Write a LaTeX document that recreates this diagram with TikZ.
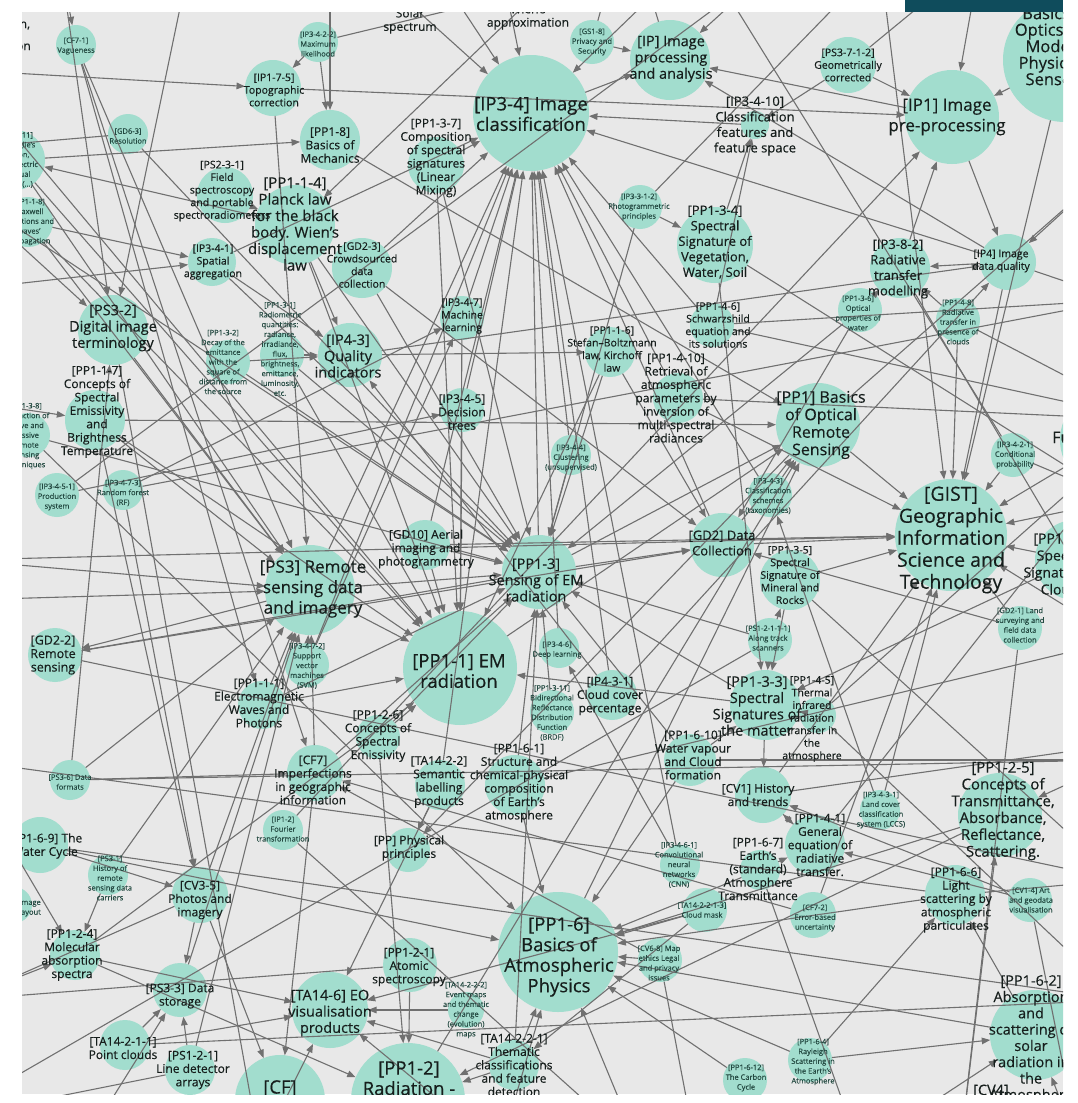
\documentclass[tikz,border=0pt]{standalone}
\usepackage{fontspec}
\setmainfont{Open Sans}[FakeBold=0.35]
\usetikzlibrary{arrows.meta}
\definecolor{canvas}{HTML}{E8E8E8}
\definecolor{mint}{HTML}{A2DDCE}
\definecolor{wire}{HTML}{707070}
\definecolor{ink}{HTML}{161E1C}
\definecolor{inksm}{HTML}{244A42}
\definecolor{band}{HTML}{0F4C5C}
\begin{document}
\begin{tikzpicture}[x=1pt,y=-1pt,
  gnode/.style={circle,fill=mint,draw=none,inner sep=0pt,outer sep=0pt},
  lab/.style={align=center,text=ink,inner sep=0pt},
  fxl/.style={font=\fontsize{18.5}{20.5}\selectfont},
  fl/.style={font=\fontsize{17}{20.5}\selectfont},
  flm/.style={font=\fontsize{16}{17.5}\selectfont},
  fm/.style={font=\fontsize{14.5}{16.3}\selectfont},
  fn/.style={font=\fontsize{13}{15.5}\selectfont},
  fs/.style={font=\fontsize{12}{13.4}\selectfont},
  fsm/.style={font=\fontsize{10.5}{12.6}\selectfont},
  ft/.style={font=\fontsize{7.5}{9.8}\selectfont,text=inksm},
  link/.style={draw=wire,line width=1.1pt,-{Triangle[length=8.5pt,width=6.5pt]}},
]
\useasboundingbox (0,0) rectangle (1077,1103);
\fill[white] (0,0) rectangle (1077,1103);
\fill[band] (905,0) rectangle (1063,12);

\begin{scope}
\clip (22,12) rectangle (1063,1094);
\fill[canvas] (22,12) rectangle (1063,1094);

% ---------- concept circles ----------
\node[gnode,minimum size=60pt]  (tl)     at (0,-8) {};
\node[gnode,minimum size=40pt]  (cf71)   at (76,45) {};
\node[gnode,minimum size=40pt]  (ip3422) at (318,42) {};
\node[gnode,minimum size=44pt]  (gs18)   at (592,42) {};
\node[gnode,minimum size=80pt]  (ip)     at (670,60) {};
\node[gnode,minimum size=116pt] (ip34)   at (531,113) {};
\node[gnode,minimum size=56pt]  (pp137)  at (436,165) {};
\node[gnode,minimum size=28pt]  (ip3410) at (755,125) {};
\node[gnode,minimum size=56pt]  (ps3712) at (848,65) {};
\node[gnode,minimum size=94pt]  (ip1)    at (952,117) {};
\node[gnode,minimum size=124pt] (bo)     at (1065,60) {};
\node[gnode,minimum size=56pt]  (ip175)  at (273,88) {};
\node[gnode,minimum size=60pt]  (pp18)   at (330,140) {};
\node[gnode,minimum size=40pt]  (gd63)   at (128,134) {};
\node[gnode,minimum size=60pt]  (l111)   at (15,160) {};
\node[gnode,minimum size=50pt]  (l118)   at (28,222) {};
\node[gnode,minimum size=56pt]  (ps231)  at (225,195) {};
\node[gnode,minimum size=80pt]  (pp114)  at (295,225) {};
\node[gnode,minimum size=48pt]  (ip341)  at (212,262) {};
\node[gnode,minimum size=60pt]  (gd23)   at (362,268) {};
\node[gnode,minimum size=70pt]  (ps32)   at (113,330) {};
\node[gnode,minimum size=44pt]  (pp132)  at (228,362) {};
\node[gnode,minimum size=44pt]  (pp131)  at (282,355) {};
\node[gnode,minimum size=64pt]  (ip43)   at (350,355) {};
\node[gnode,minimum size=60pt]  (pp117)  at (95,420) {};
\node[gnode,minimum size=44pt]  (pp138)  at (28,435) {};
\node[gnode,minimum size=44pt]  (ip3451) at (57,495) {};
\node[gnode,minimum size=40pt]  (ip3473) at (123,490) {};
\node[gnode,minimum size=44pt]  (ip347)  at (462,318) {};
\node[gnode,minimum size=44pt]  (ip345)  at (462,410) {};
\node[gnode,minimum size=44pt]  (ip3312) at (640,207) {};
\node[gnode,minimum size=76pt]  (pp134)  at (715,245) {};
\node[gnode,minimum size=60pt]  (ip382)  at (900,268) {};
\node[gnode,minimum size=56pt]  (ip4)    at (1008,262) {};
\node[gnode,minimum size=44pt]  (pp136)  at (860,310) {};
\node[gnode,minimum size=44pt]  (pp148)  at (958,320) {};
\node[gnode,minimum size=44pt]  (pp146)  at (712,325) {};
\node[gnode,minimum size=50pt]  (pp116)  at (610,352) {};
\node[gnode,minimum size=50pt]  (pp1410) at (678,398) {};
\node[gnode,minimum size=84pt]  (pp1)    at (818,425) {};
\node[gnode,minimum size=40pt]  (ip344)  at (571,455) {};
\node[gnode,minimum size=44pt]  (ip343)  at (770,495) {};
\node[gnode,minimum size=44pt]  (ip3421) at (1013,455) {};
\node[gnode,minimum size=100pt] (fnd)    at (1110,440) {};
\node[gnode,minimum size=112pt] (gist)   at (951,535) {};
\node[gnode,minimum size=80pt]  (pp139)  at (1075,560) {};
\node[gnode,minimum size=64pt]  (gd2)    at (722,545) {};
\node[gnode,minimum size=60pt]  (pp135)  at (790,580) {};
\node[gnode,minimum size=44pt]  (gd21)   at (1020,628) {};
\node[gnode,minimum size=44pt]  (ps1211) at (770,640) {};
\node[gnode,minimum size=70pt]  (pp133)  at (765,705) {};
\node[gnode,minimum size=36pt]  (pp145)  at (818,715) {};
\node[gnode,minimum size=40pt]  (ip346)  at (559,648) {};
\node[gnode,minimum size=50pt]  (ip431)  at (612,695) {};
\node[gnode,minimum size=44pt]  (pp1311) at (552,712) {};
\node[gnode,minimum size=52pt]  (pp1610) at (690,760) {};
\node[gnode,minimum size=56pt]  (cv1)    at (763,795) {};
\node[gnode,minimum size=60pt]  (pp141)  at (815,845) {};
\node[gnode,minimum size=40pt]  (lccs)   at (880,810) {};
\node[gnode,minimum size=84pt]  (pp125)  at (1000,815) {};
\node[gnode,minimum size=40pt]  (pp167)  at (760,870) {};
\node[gnode,minimum size=46pt]  (cf72)   at (813,915) {};
\node[gnode,minimum size=60pt]  (pp166)  at (955,895) {};
\node[gnode,minimum size=44pt]  (cv14)   at (1030,900) {};
\node[gnode,minimum size=44pt]  (tamask) at (705,910) {};
\node[gnode,minimum size=40pt]  (cnn)    at (680,865) {};
\node[gnode,minimum size=44pt]  (cv68)   at (660,960) {};
\node[gnode,minimum size=120pt] (pp16)   at (558,952) {};
\node[gnode,minimum size=54pt]  (pp121)  at (410,965) {};
\node[gnode,minimum size=36pt]  (ta222)  at (466,1010) {};
\node[gnode,minimum size=50pt]  (ta221)  at (514,1065) {};
\node[gnode,minimum size=114pt] (pp12)   at (408,1100) {};
\node[gnode,minimum size=76pt]  (ta146)  at (330,1010) {};
\node[gnode,minimum size=90pt]  (cf)     at (280,1100) {};
\node[gnode,minimum size=50pt]  (ps121)  at (190,1070) {};
\node[gnode,minimum size=50pt]  (ta211)  at (125,1045) {};
\node[gnode,minimum size=54pt]  (ps33)   at (180,990) {};
\node[gnode,minimum size=50pt]  (pp124)  at (75,955) {};
\node[gnode,minimum size=56pt]  (cv35)   at (200,895) {};
\node[gnode,minimum size=40pt]  (ps31)   at (108,875) {};
\node[gnode,minimum size=56pt]  (pp169)  at (40,845) {};
\node[gnode,minimum size=36pt]  (imgl)   at (14,905) {};
\node[gnode,minimum size=40pt]  (ps36)   at (70,780) {};
\node[gnode,minimum size=40pt]  (ip12)   at (283,830) {};
\node[gnode,minimum size=56pt]  (cf7)    at (315,773) {};
\node[gnode,minimum size=44pt]  (pp126)  at (378,737) {};
\node[gnode,minimum size=50pt]  (ta1422) at (440,785) {};
\node[gnode,minimum size=60pt]  (pp161)  at (515,785) {};
\node[gnode,minimum size=44pt]  (pp)     at (408,850) {};
\node[gnode,minimum size=48pt]  (pp111)  at (262,705) {};
\node[gnode,minimum size=44pt]  (ip3472) at (307,665) {};
\node[gnode,minimum size=90pt]  (ps3)    at (310,590) {};
\node[gnode,minimum size=54pt]  (gd22)   at (55,655) {};
\node[gnode,minimum size=50pt]  (gd10)   at (425,545) {};
\node[gnode,minimum size=74pt]  (pp13)   at (539,572) {};
\node[gnode,minimum size=114pt] (pp11)   at (460,668) {};
\node[gnode,minimum size=44pt]  (pp164)  at (810,1060) {};
\node[gnode,minimum size=44pt]  (pp1612) at (745,1080) {};
\node[gnode,minimum size=90pt]  (pp162)  at (1035,1035) {};
\coordinate (solar) at (410,4);
\coordinate (wien)  at (528,2);

% ---------- concepts lying beyond the visible frame ----------
\coordinate (xL1) at (-40,70);   \coordinate (xL2) at (-40,190);
\coordinate (xL3) at (-40,290);  \coordinate (xL4) at (-40,560);
\coordinate (xL5) at (-40,600);  \coordinate (xL6) at (-40,760);
\coordinate (xL7) at (-40,1000); \coordinate (xL8) at (-40,400);
\coordinate (xL9) at (-40,880);
\coordinate (xT1) at (190,-40);  \coordinate (xT2) at (330,-40);
\coordinate (xT3) at (430,-40);  \coordinate (xT4) at (500,-40);
\coordinate (xT5) at (640,-40);  \coordinate (xT6) at (780,-40);
\coordinate (xT7) at (880,-40);  \coordinate (xT8) at (60,-40);
\coordinate (xT9) at (980,-40);
\coordinate (xR1) at (1120,160); \coordinate (xR2) at (1120,300);
\coordinate (xR3) at (1120,500); \coordinate (xR4) at (1120,640);
\coordinate (xR5) at (1120,880); \coordinate (xR6) at (1120,1000);
\coordinate (xR7) at (1120,760); \coordinate (xR8) at (1120,60);
\coordinate (xB1) at (80,1150);  \coordinate (xB2) at (260,1150);
\coordinate (xB3) at (500,1150); \coordinate (xB4) at (640,1150);
\coordinate (xB5) at (860,1150); \coordinate (xB6) at (960,1150);
\coordinate (xB7) at (1080,1150);
\coordinate (pp14o) at (1150,420); \coordinate (cv1o) at (1150,740);
\coordinate (cv3o) at (-60,1010);  \coordinate (cv6o) at (700,1170);
\coordinate (ps12o) at (-60,1120); \coordinate (gso) at (620,-60);
\coordinate (gd6o) at (-60,150);   \coordinate (ip33o) at (900,-60);
\coordinate (ps37o) at (1000,-60); \coordinate (ip342o) at (700,-50);

% ---------- parent links ----------
\foreach \a/\b in {pp111/pp11,pp114/pp11,pp116/pp11,pp117/pp11,l111/pp11,l118/pp11,pp11/pp1,
  pp131/pp13,pp132/pp13,pp133/pp13,pp136/pp13,pp137/pp13,pp138/pp13,pp1311/pp13,pp13/pp1,
  pp134/pp133,pp135/pp133,pp139/pp133,
  pp121/pp12,pp124/pp12,pp125/pp12,pp126/pp12,pp12/pp1,
  pp141/pp14o,pp145/pp14o,pp146/pp14o,pp148/pp14o,pp1410/pp14o,
  pp161/pp16,pp162/pp16,pp164/pp16,pp166/pp16,pp167/pp16,pp169/pp16,pp1610/pp16,pp1612/pp16,pp16/pp1,
  pp18/pp1,pp1/pp,
  ip1/ip,ip4/ip,ip34/ip,
  ip175/ip1,ip12/ip1,ps3712/ip1,ip382/ip1,bo/ip1,
  ip341/ip34,ip343/ip34,ip344/ip34,ip345/ip34,ip346/ip34,ip347/ip34,ip3410/ip34,ip342o/ip34,
  ip3421/ip342o,ip3422/ip342o,
  ip3472/ip347,ip3473/ip347,ip3451/ip345,cnn/ip346,lccs/ip343,ip3312/ip33o,
  ip43/ip4,ip431/ip43,
  gd21/gd2,gd22/gd2,gd23/gd2,gd2/gist,gd10/gist,gd63/gd6o,
  ps32/ps3,ps33/ps3,ps36/ps3,ps31/ps3,ps3712/ps37o,
  cv35/cv3o,cv1/cv1o,cv14/cv1,cv68/cv6o,
  cf7/cf,cf71/cf7,cf72/cf7,
  ta211/ta146,ta1422/ta146,ta221/ta146,ta222/ta146,tamask/ta221,
  ps121/ps12o,ps1211/ps12o,gs18/gso}
  \draw[link] (\a) -- (\b);

% ---------- related-concept links ----------
\foreach \a/\b in {xL1/ip175,l111/pp18,pp114/l111,xL3/ip341,l118/ip341,xT1/ps32,xL2/ps32,
  pp114/ip43,ip341/ip43,pp131/ip43,pp132/ip43,xT2/pp18,ps231/pp114,ip3422/pp18,ip3422/ip175,
  xT3/ip34,xT4/ip34,solar/ip34,wien/pp114,gs18/ip,ip/xT5,ps3712/ip3410,ip4/ip34,bo/gist,bo/xR8,
  ip4/xR2,xR1/ip4,pp148/ip382,pp136/ip382,ip4/ip382,ip1/ip4,ip3312/pp134,pp137/ip34,
  pp134/ip3410,pp146/ip3410,gd23/ip34,ip43/pp116,pp1410/ip34,pp146/ip34,pp1/gist,xT7/gist,
  ip3421/gist,pp139/gist,fnd/gist,pp135/gist,ip343/pp1,gd2/pp1,ps1211/pp135,pp13/gd2,
  gd10/pp13,ps3/pp13,ip344/pp13,pp116/pp13,ip345/pp11,ip347/pp11,gd10/pp11,ps3/pp11,
  pp126/pp11,ip3472/ps3,pp111/ps3,pp117/ps3,cf71/ps3,l118/ps3,xL4/ps3,xL5/ps3,ps3/gd22,
  pp13/gd22,pp169/cv35,pp117/cv35,ip3473/cv35,cv35/ps33,ta211/ps33,ps121/ps33,pp124/ta146,
  ps31/pp124,xL6/pp124,xL7/pp124,ps36/cf7,ta1422/pp,ta221/pp12,ta221/pp16,cv68/pp16,
  tamask/pp16,pp162/pp166,pp164/pp166,pp125/pp16,pp141/cv1,cv1/pp141,pp133/cv1,pp145/pp133,
  pp1610/pp133,pp167/pp141,cv14/pp141,pp166/xR5,gd21/gist,xR4/gist,xR3/pp139,cf7/ps3,
  cv35/ps3,ps1211/pp133,xB1/ps33,xB2/ta146,xB3/pp16,xB4/pp16,xB5/pp162,xB3/ta146,xB6/pp125,
  xB7/pp162,xL8/pp117,xL9/pp169,xT8/cf71,xT6/ip,xT9/ip1,xR6/pp162,xR7/pp125,xR3/gist,
  pp1/xR1,pp13/ip34,ps3/ip34,gd10/ip34,pp124/pp11,pp161/pp13,pp1610/pp13,ip431/ip34,pp126/pp13}
  \draw[link] (\a) -- (\b);

% ---------- further cross references ----------
\foreach \a/\b in {xL1/pp11,xL2/pp13,l111/ps3,cf71/pp111,xT8/ps32,ip175/ps3,
  ip341/pp13,pp114/pp13,gd23/pp13,pp137/pp11,pp131/pp11,pp116/gd2,pp1410/gist,
  pp146/xR2,ip3312/pp13,pp134/xR3,ip382/xR4,pp136/gd2,pp148/gist,ip4/gist,ip3421/xR3,
  gd2/ip34,pp135/xR5,gd21/xB6,ps1211/pp13,pp133/pp11,pp145/xR6,ip431/ip4,pp1610/xR7,
  cv1/gist,lccs/gist,pp167/xB5,cf72/gist,pp166/xL6,cv14/xB7,tamask/ta146,cnn/ip34,
  cv68/cf7,pp164/pp162,pp121/xL7,ta221/pp13,ps121/ps3,cv35/cf,ps36/ps32,cf7/pp13,
  ta1422/ip34,pp161/xR4,pp111/pp13,ip3472/ip34,pp117/pp1,xL4/gist,ps32/xB2,gd63/pp13,
  ip3451/xT6,ip3473/xR2,pp138/pp16,gd22/xR5,ps36/xR7,ip12/xB4,pp169/xR6,ta211/xR6}
  \draw[link] (\a) -- (\b);

% ---------- labels ----------
\node[lab,font=\fontsize{12}{11}\selectfont] (tlt) at (-12,36) {Generalisation,\\of\\Representation};
\node[lab,ft] (cf71t)   at (76,46)   {[CF7-1]\\Vagueness};
\node[lab,ft] (ip3422t) at (318,44)  {[IP3-4-2-2]\\Maximum\\likelihood};
\node[lab,ft] (gs18t)   at (592,42)  {[GS1-8]\\Privacy and\\Security};
\node[lab,fm] (ipt)     at (671,59)  {[IP] Image\\processing\\and analysis};
\node[lab,fxl] (ip34t)  at (531,114) {[IP3-4] Image\\classification};
\node[lab,fs] (pp137t)  at (436,158) {[PP1-3-7]\\Composition\\of spectral\\signatures\\(Linear\\Mixing)};
\node[lab,fn] (ip3410t) at (755,126) {[IP3-4-10]\\Classification\\features and\\feature space};
\node[lab,fsm] (ps3712t) at (848,65) {[PS3-7-1-2]\\Geometrically\\corrected};
\node[lab,fl] (ip1t)    at (947,117) {[IP1] Image\\pre-processing};
\node[lab,font=\fontsize{16.5}{16.5}\selectfont] (bot) at (1056,38) {[PP2]\\Basics of\\Optics and\\Modern\\Physics in\\Sensors};
\node[lab,fsm] (ip175t) at (274,90)  {[IP1-7-5]\\Topographic\\correction};
\node[lab,fs] (pp18t)   at (330,145) {[PP1-8]\\Basics of\\Mechanics};
\node[lab,ft] (gd63t)   at (128,136) {[GD6-3]\\Resolution};
\node[lab,ft] (l111t)   at (15,160)  {[PP1-1-11]\\De Broglie's\\relation,\\photoelectric\\and dual\\nature (...)};
\node[lab,ft] (l118t)   at (29,222)  {[PP1-1-8]\\Maxwell\\equations and\\waves'\\propagation};
\node[lab,fsm] (ps231t) at (222,191) {[PS2-3-1]\\Field\\spectroscopy\\and portable\\spectroradiometers};
\node[lab,font=\fontsize{15}{16.5}\selectfont] (pp114t) at (295,224) {[PP1-1-4]\\Planck law\\for the black\\body. Wien's\\displacement\\law};
\node[lab,fsm] (ip341t) at (213,262) {[IP3-4-1]\\Spatial\\aggregation};
\node[lab,fsm] (gd23t)  at (362,265) {[GD2-3]\\Crowdsourced\\data\\collection};
\node[lab,fm] (ps32t)   at (113,328) {[PS3-2]\\Digital image\\terminology};
\node[lab,ft] (pp132t)  at (223,362) {[PP1-3-2]\\Decay of the\\emittance\\with the\\square of\\distance from\\the source};
\node[lab,ft] (pp131t)  at (280,349) {[PP1-3-1]\\Radiometric\\quantities:\\radiance,\\irradiance,\\flux,\\brightness,\\emittance,\\luminosity,\\etc.};
\node[lab,fm] (ip43t)   at (348,356) {[IP4-3]\\Quality\\indicators};
\node[lab,fs] (pp117t)  at (97,412)  {[PP1-1-7]\\Concepts of\\Spectral\\Emissivity\\and\\Brightness\\Temperature};
\node[lab,ft] (pp138t)  at (26,436)  {[PP1-3-8]\\Distinction of\\active and\\passive\\remote\\sensing\\techniques};
\node[lab,ft] (ip3451t) at (57,497)  {[IP3-4-5-1]\\Production\\system};
\node[lab,ft] (ip3473t) at (123,493) {[IP3-4-7-3]\\Random forest\\(RF)};
\node[lab,fsm] (ip347t) at (462,316) {[IP3-4-7]\\Machine\\learning};
\node[lab,fs] (ip345t)  at (462,412) {[IP3-4-5]\\Decision\\trees};
\node[lab,ft] (ip3312t) at (639,207) {[IP3-3-1-2]\\Photogrammetric\\principles};
\node[lab,fn] (pp134t)  at (715,242) {[PP1-3-4]\\Spectral\\Signature of\\Vegetation,\\Water, Soil};
\node[lab,fn] (ip382t)  at (898,269) {[IP3-8-2]\\Radiative\\transfer\\modelling};
\node[lab,fsm] (ip4t)   at (1001,261) {[IP4] Image\\data quality};
\node[lab,ft] (pp136t)  at (858,313) {[PP1-3-6]\\Optical\\properties of\\water};
\node[lab,ft] (pp148t)  at (958,322) {[PP1-4-8]\\Radiative\\transfer in\\presence of\\clouds};
\node[lab,fsm] (pp146t) at (718,325) {[PP1-4-6]\\Schwarzshild\\equation and\\its solutions};
\node[lab,fsm] (pp116t) at (612,349) {[PP1-1-6]\\Stefan–Boltzmann\\law, Kirchoff\\law};
\node[lab,fs] (pp1410t) at (676,398) {[PP1-4-10]\\Retrieval of\\atmospheric\\parameters by\\inversion of\\multi-spectral\\radiances};
\node[lab,flm] (pp1t)   at (821,425) {[PP1] Basics\\of Optical\\Remote\\Sensing};
\node[lab,ft] (ip344t)  at (571,458) {[IP3-4-4]\\Clustering\\(unsupervised)};
\node[lab,ft] (ip343t)  at (768,496) {[IP3-4-3]\\Classification\\schemes\\(taxonomies)};
\node[lab,ft] (ip3421t) at (1015,455) {[IP3-4-2-1]\\Conditional\\probability};
\node[lab,flm,anchor=west] (fndt) at (1052,437) {Fundamentals};
\node[lab,font=\fontsize{19.5}{22}\selectfont] (gistt) at (951,540) {[GIST]\\Geographic\\Information\\Science and\\Technology};
\node[lab,font=\fontsize{14}{17}\selectfont] (pp139t) at (1063,564) {[PP1-3-9]\\Spectral\\Signature of\\Clouds};
\node[lab,fn] (gd2t)    at (722,543) {[GD2] Data\\Collection};
\node[lab,fsm] (pp135t) at (790,575) {[PP1-3-5]\\Spectral\\Signature of\\Mineral and\\Rocks};
\node[lab,ft] (gd21t)   at (1020,625) {[GD2-1] Land\\surveying and\\field data\\collection};
\node[lab,ft] (ps1211t) at (768,638) {[PS1-2-1-1-1]\\Along track\\scanners};
\node[lab,fm] (pp133t)  at (757,706) {[PP1-3-3]\\Spectral\\Signatures of\\the matter};
\node[lab,fsm] (pp145t) at (812,719) {[PP1-4-5]\\Thermal\\infrared\\radiation\\transfer in\\the\\atmosphere};
\node[lab,ft] (ip346t)  at (557,650) {[IP3-4-6]\\Deep learning};
\node[lab,fs] (ip431t)  at (610,696) {[IP4-3-1]\\Cloud cover\\percentage};
\node[lab,ft] (pp1311t) at (552,713) {[PP1-3-11]\\Bidirectional\\Reflectance\\Distribution\\Function\\(BRDF)};
\node[lab,fs] (pp1610t) at (693,755) {[PP1-6-10]\\Water vapour\\and Cloud\\formation};
\node[lab,fs] (cv1t)    at (758,795) {[CV1] History\\and trends};
\node[lab,fs] (pp141t)  at (820,845) {[PP1-4-1]\\General\\equation of\\radiative\\transfer.};
\node[lab,ft] (lccst)   at (881,810) {[IP3-4-3-1]\\Land cover\\classification\\system (LCCS)};
\node[lab,font=\fontsize{15}{16.8}\selectfont] (pp125t) at (1003,811) {[PP1-2-5]\\Concepts of\\Transmittance,\\Absorbance,\\Reflectance,\\Scattering.};
\node[lab,fs] (pp167t)  at (758,869) {[PP1-6-7]\\Earth's\\(standard)\\Atmosphere\\Transmittance};
\node[lab,ft] (cf72t)   at (815,918) {[CF7-2]\\Error-based\\uncertainty};
\node[lab,fs] (pp166t)  at (956,900) {[PP1-6-6]\\Light\\scattering by\\atmospheric\\particulates};
\node[lab,ft] (cv14t)   at (1031,900) {[CV1-4] Art\\and geodata\\visualisation};
\node[lab,ft] (tamaskt) at (702,910) {[TA14-2-2-1-3]\\Cloud mask};
\node[lab,ft] (cnnt)    at (679,865) {[IP3-4-6-1]\\Convolutional\\neural\\networks\\(CNN)};
\node[lab,ft] (cv68t)   at (659,963) {[CV6-8] Map\\ethics Legal\\and privacy\\issues};
\node[lab,fxl] (pp16t)  at (559,957) {[PP1-6]\\Basics of\\Atmospheric\\Physics};
\node[lab,fs] (pp121t)  at (409,967) {[PP1-2-1]\\Atomic\\spectroscopy};
\node[lab,ft] (ta222t)  at (466,1010) {[TA14-2-2-2]\\Event maps\\and thematic\\change\\(evolution)\\maps};
\node[lab,fs] (ta221t)  at (514,1065) {[TA14-2-2-1]\\Thematic\\classifications\\and feature\\detection};
\node[lab,fxl,anchor=north] (pp12t) at (409,1061) {[PP1-2]\\Radiation -\\matter\\interaction};
\node[lab,fm] (ta146t)  at (330,1013) {[TA14-6] EO\\visualisation\\products};
\node[lab,fxl,anchor=north] (cft) at (280,1080) {[CF]\\Conceptual\\Foundations};
\node[lab,fs] (ps121t)  at (193,1070) {[PS1-2-1]\\Line detector\\arrays};
\node[lab,fs] (ta211t)  at (123,1048) {[TA14-2-1-1]\\Point clouds};
\node[lab,fs] (ps33t)   at (180,996) {[PS3-3] Data\\storage};
\node[lab,fs] (pp124t)  at (72,955)  {[PP1-2-4]\\Molecular\\absorption\\spectra};
\node[lab,fs] (cv35t)   at (200,900) {[CV3-5]\\Photos and\\imagery};
\node[lab,ft] (ps31t)   at (110,878) {[PS3-1]\\History of\\remote\\sensing data\\carriers};
\node[lab,fs] (pp169t)  at (45,846)  {[PP1-6-9] The\\Water Cycle};
\node[lab,ft] (imglt)   at (30,908)  {Image\\layout};
\node[lab,ft] (ps36t)   at (70,782)  {[PS3-6] Data\\formats};
\node[lab,ft] (ip12t)   at (283,829) {[IP1-2]\\Fourier\\transformation};
\node[lab,fs] (cf7t)    at (313,780) {[CF7]\\Imperfections\\in geographic\\information};
\node[lab,fs] (pp126t)  at (378,736) {[PP1-2-6]\\Concepts of\\Spectral\\Emissivity};
\node[lab,fs] (ta1422t) at (439,782) {[TA14-2-2]\\Semantic\\labelling\\products};
\node[lab,fs] (pp161t)  at (519,783) {[PP1-6-1]\\Structure and\\chemical-physical\\composition\\of Earth's\\atmosphere};
\node[lab,fs] (ppt)     at (409,848) {[PP] Physical\\principles};
\node[lab,fs] (pp111t)  at (259,703) {[PP1-1-1]\\Electromagnetic\\Waves and\\Photons};
\node[lab,ft] (ip3472t) at (307,666) {[IP3-4-7-2]\\Support\\vector\\machines\\(SVM)};
\node[lab,fl] (ps3t)    at (313,589) {[PS3] Remote\\sensing data\\and imagery};
\node[lab,font=\fontsize{12.5}{13.5}\selectfont] (gd22t) at (53,655) {[GD2-2]\\Remote\\sensing};
\node[lab,fs] (gd10t)   at (426,549) {[GD10] Aerial\\imaging and\\photogrammetry};
\node[lab,fm] (pp13t)   at (536,580) {[PP1-3]\\Sensing of EM\\radiation};
\node[lab,fxl] (pp11t)  at (459,671) {[PP1-1] EM\\radiation};
\node[lab,ft] (pp164t)  at (813,1062) {[PP1-6-4]\\Rayleigh\\Scattering in\\the Earth's\\Atmosphere};
\node[lab,ft] (pp1612t) at (746,1078) {[PP1-6-12]\\The Carbon\\Cycle};
\node[lab,fm,anchor=north] (pp162t) at (1031,975) {[PP1-6-2]\\Absorption\\and\\scattering of\\solar\\radiation in\\the\\Atmosphere};
\node[lab,fm,anchor=west] (cv4t) at (973,1091) {[CV4]};
\node[lab,fs] (solart)  at (410,21)  {Solar\\spectrum};
\node[lab,fs] (wient)   at (528,17)  {Wien's\\approximation};
\end{scope}
\end{tikzpicture}
\end{document}
